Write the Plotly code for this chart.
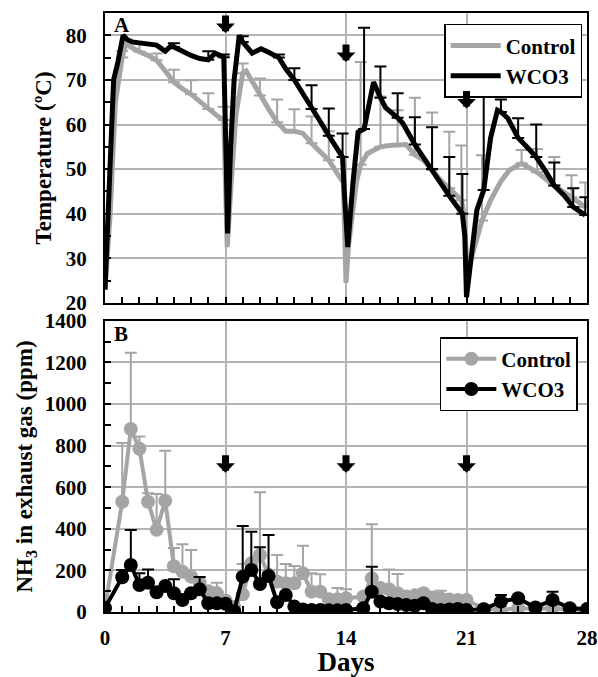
import plotly.graph_objects as go

SERIF = "Liberation Serif"
GRAY = "#a5a5a5"
BLACK = "#000000"

# ---------------- Panel A: temperature (ºC) ----------------
ctrl_t_days = [0, 0.3, 0.6, 1.0, 1.2, 1.6, 2.0, 2.5, 3.0, 3.5, 4.0, 4.5, 5.0, 5.5, 6.0, 6.5, 6.9,
               7.05, 7.1, 7.3, 7.6, 8.0, 8.2, 8.5, 9.0, 9.5, 10.0, 10.5, 11.0, 11.5, 12.0, 12.5,
               13.0, 13.5, 13.85, 14.0, 14.15, 14.6, 14.85, 15.25, 16.0, 16.5, 17.0, 17.5, 18.0,
               18.5, 19.0, 19.5, 20.0, 20.7, 20.85, 21.05, 21.3, 21.9, 22.4, 23.0, 23.5, 24.2,
               25.1, 26.1, 27.1, 27.9]
ctrl_t = [23, 40, 65, 75, 78, 77, 76.3, 75.5, 74.4, 72, 69.5, 68, 66.8, 65.2, 63.5, 62, 61,
          40, 32.5, 45, 62, 71.5, 72, 70, 66.5, 63.5, 60.5, 58.5, 58.5, 58, 55.8, 54,
          52, 49, 47, 24.5, 33, 47, 51, 53.5, 55, 55.3, 55.3, 55.5, 53.2,
          52, 49.8, 47.5, 45.7, 43, 40, 27, 30.3, 38.5, 43, 47.3, 49.8, 51.3,
          49.3, 46.3, 43.7, 41.5]
ctrl_t_err = [None, None, None, 1.5, None, None, 1.9, None, 1.5, None, 2.8, None, 3.1, None, 3.5, None, 3.0,
              None, None, None, None, 2.2, None, None, 3.8, None, 5.1, None, 4.9, None, 6.0, None,
              6.5, None, None, None, None, None, 23.0, None, 11.3, None, 7.9, None, 12.8,
              None, 12.9, None, 12.7, 12.3, None, None, None, 14.6, None, None, None, 3.0,
              5.2, 6.4, 4.9, 5.5]

wco3_t_days = [0, 0.3, 0.5, 0.75, 1.05, 1.3, 1.6, 2.0, 2.5, 3.0, 3.5, 3.8, 4.0, 4.5, 5.0, 5.5, 5.85,
               6.0, 6.4, 6.9, 7.05, 7.12, 7.3, 7.5, 7.8, 8.0, 8.55, 9.06, 9.5, 10.1, 10.5, 11.0,
               11.4, 12.0, 12.45, 13.0, 13.8, 13.9, 14.1, 14.4, 14.7, 15.05, 15.3, 15.6, 16.0,
               16.3, 17.0, 17.3, 18.0, 18.6, 19.0, 19.5, 20.0, 20.76, 20.9, 21.0, 21.3, 21.6,
               22.0, 22.4, 22.8, 23.0, 23.4, 24.0, 24.5, 25.05, 25.6, 26.1, 26.7, 27.2, 27.9]
wco3_t = [23, 50, 70, 74, 80, 79, 78.5, 78.3, 78, 77.8, 76.4, 77.5, 77.4, 76.3, 75.5, 74.8, 74.4,
          74.5, 76, 75.1, 50, 35.6, 55, 70, 80, 78.5, 76, 77, 76.2, 75, 72.5, 70,
          67.5, 63.5, 61, 57.5, 52.7, 45, 32.5, 46.8, 58.3, 59, 64, 69.5, 66,
          63.8, 61.5, 60.3, 55.5, 52, 50, 47, 44, 40, 35, 21.3, 32, 40.8,
          45.3, 57, 63.2, 62.8, 61.4, 57, 55, 52.7, 49.5, 46.3, 44, 41.5, 39.7]
wco3_t_err = [None, None, None, None, None, None, None, None, None, None, None, None, 0.8, None, None, None, None,
              1.9, None, 0.6, None, None, None, None, None, 1.3, None, None, None, 0.7, None, 2.6,
              None, 5.3, None, 6.1, 5.3, None, None, None, None, 22.7, None, None, 7.0,
              None, 5.5, None, 6.1, None, 9.4, None, 8.7, 8.9, None, None, None, None,
              22.6, None, None, 2.8, None, 4.4, None, 7.3, None, 5.2, None, 4.2, 4.0]

# ---------------- Panel B: NH3 (ppm) ----------------
nh3_days = [0, 1, 1.5, 2, 2.5, 3, 3.5, 4, 4.5, 5, 5.5, 6, 6.5, 7, 7.5, 8, 8.5, 9, 9.5, 10,
            10.5, 11, 11.5, 12, 12.5, 13, 13.5, 14, 15, 15.5, 16, 16.5, 17, 17.5, 18, 18.5,
            19, 19.5, 20, 20.5, 21, 22, 23, 24, 25, 26, 27, 28]
ctrl_nh3 = [20, 530, 880, 785, 530, 395, 535, 220, 194, 170, 140, 100, 91, 55, 25, 85, 234, 274, 180, 146,
            138, 138, 186, 98, 98, 61, 61, 66, 74, 162, 115, 109, 90, 74, 80, 90,
            70, 66, 60, 58, 58, 15, 10, 18, 15, 18, 10, 10]
ctrl_nh3_err = [None, 283, 367, 59, 41, 172, 241, 88, 132, 128, None, None, 50, None, None, 146, None, 302, None, 128,
                93, 83, 133, 88, 84, None, 54, 44, None, 260, None, 96, 93, None, None, None,
                None, 36, None, None, 14, None, None, None, None, None, None, None]
wco3_nh3 = [20, 167, 226, 130, 141, 95, 125, 90, 58, 90, 109, 42, 42, 40, 4, 170, 202, 135, 173, 47,
            82, 26, 12, 10, 10, 8, 8, 10, 18, 98, 50, 42, 38, 34, 30, 42,
            15, 10, 12, 15, 10, 13, 50, 66, 22, 58, 18, 14]
wco3_nh3_err = [None, 35, 168, 56, 64, None, None, 67, None, None, 59, None, None, None, None, 244, 184, 177, 197, None,
                None, None, None, None, None, None, None, None, None, 120, None, None, None, None, None, None,
                None, None, None, None, None, None, 32, None, None, 40, None, None]

# turning points (compost turning) and where the arrows point
turn_days = [7, 14, 21]
turn_arrow_temp = [80.5, 74.0, 63.6]
turn_arrow_nh3 = [670, 670, 670]


def with_err(days, vals, errs):
    keep = [i for i, e in enumerate(errs) if e is not None]
    return [days[i] for i in keep], [vals[i] for i in keep], [errs[i] for i in keep]


def err_trace(days, vals, errs, color, xa, ya):
    x, y, e = with_err(days, vals, errs)
    return go.Scatter(x=x, y=y, mode="markers", xaxis=xa, yaxis=ya, showlegend=False,
                      marker=dict(size=1, color="rgba(0,0,0,0)"), hoverinfo="skip",
                      error_y=dict(type="data", array=e, symmetric=False,
                                   arrayminus=[0] * len(e), color=color,
                                   thickness=2, width=6))


fig = go.Figure()

# Panel A
fig.add_trace(err_trace(ctrl_t_days, ctrl_t, ctrl_t_err, GRAY, "x", "y"))
fig.add_trace(go.Scatter(x=ctrl_t_days, y=ctrl_t, mode="lines", name="Control",
                         line=dict(color=GRAY, width=5), xaxis="x", yaxis="y", legend="legend"))
fig.add_trace(err_trace(wco3_t_days, wco3_t, wco3_t_err, BLACK, "x", "y"))
fig.add_trace(go.Scatter(x=wco3_t_days, y=wco3_t, mode="lines", name="WCO3",
                         line=dict(color=BLACK, width=5), xaxis="x", yaxis="y", legend="legend"))

# Panel B
fig.add_trace(err_trace(nh3_days, ctrl_nh3, ctrl_nh3_err, GRAY, "x2", "y2"))
fig.add_trace(go.Scatter(x=nh3_days, y=ctrl_nh3, mode="lines+markers", name="Control",
                         line=dict(color=GRAY, width=4), marker=dict(color=GRAY, size=14),
                         xaxis="x2", yaxis="y2", legend="legend2"))
fig.add_trace(err_trace(nh3_days, wco3_nh3, wco3_nh3_err, BLACK, "x2", "y2"))
fig.add_trace(go.Scatter(x=nh3_days, y=wco3_nh3, mode="lines+markers", name="WCO3",
                         line=dict(color=BLACK, width=4), marker=dict(color=BLACK, size=14),
                         xaxis="x2", yaxis="y2", legend="legend2"))

tickfont = dict(family=SERIF, size=21, color="black", weight="bold")
common_x = dict(range=[0, 28], tick0=0, dtick=7, ticks="inside", ticklen=6, tickwidth=1.5,
                tickcolor="black", showgrid=True, gridcolor="#b4b4b4", gridwidth=1.5,
                showline=True, linecolor="black", linewidth=2, mirror=True, zeroline=False,
                automargin=False,
                minor=dict(dtick=1, ticks="inside", ticklen=6, tickwidth=1.5, tickcolor="black",
                           showgrid=False),
                tickfont=tickfont)
common_y = dict(ticks="inside", ticklen=6, tickwidth=1.5, tickcolor="black",
                showgrid=True, gridcolor="#b4b4b4", gridwidth=1.5,
                showline=True, linecolor="black", linewidth=2, mirror=True, zeroline=False,
                automargin=False,
                tickfont=tickfont, ticklabelstandoff=12)

legend_style = dict(xanchor="right", yanchor="top", bgcolor="white", bordercolor="black",
                    borderwidth=1.5, font=dict(family=SERIF, size=21, color="black", weight="bold"),
                    tracegroupgap=0, itemwidth=50)

annotations = [
    dict(text="<b>A</b>", x=0.035, y=82.4, xref="x domain", yref="y", showarrow=False,
         font=dict(family=SERIF, size=21, color="black"), xanchor="center", yanchor="middle"),
    dict(text="<b>B</b>", x=0.033, y=1335, xref="x domain", yref="y2", showarrow=False,
         font=dict(family=SERIF, size=21, color="black"), xanchor="center", yanchor="middle"),
]
for d, yt in zip(turn_days, turn_arrow_temp):
    annotations.append(dict(x=d, y=yt, xref="x", yref="y", ax=0, ay=-19, text="",
                            showarrow=True, arrowhead=1, arrowwidth=7, arrowsize=0.45,
                            arrowcolor="black"))
for d, yn in zip(turn_days, turn_arrow_nh3):
    annotations.append(dict(x=d, y=yn, xref="x2", yref="y2", ax=0, ay=-19, text="",
                            showarrow=True, arrowhead=1, arrowwidth=7, arrowsize=0.45,
                            arrowcolor="black"))

fig.update_layout(
    width=598, height=677,
    margin=dict(l=105, r=11, t=13, b=65, autoexpand=False),
    plot_bgcolor="white", paper_bgcolor="white",
    font=dict(family=SERIF, color="black"),
    xaxis=dict(common_x, anchor="y", domain=[0, 1], showticklabels=False),
    yaxis=dict(common_y, anchor="x", domain=[0.516, 1], range=[20, 85], tick0=20, dtick=10,
               minor=dict(dtick=5, ticks="inside", ticklen=6, tickwidth=1.5, tickcolor="black",
                          showgrid=False),
               title=dict(text="Temperature (ºC)",
                          font=dict(family=SERIF, size=23, color="black", weight="bold"),
                          standoff=8)),
    xaxis2=dict(common_x, anchor="y2", domain=[0, 1], showticklabels=True,
                ticklabelstandoff=6,
                title=dict(text="Days", font=dict(family=SERIF, size=27, color="black", weight="bold"),
                           standoff=7)),
    yaxis2=dict(common_y, anchor="x2", domain=[0, 0.486], range=[0, 1400], tick0=0, dtick=200,
                minor=dict(dtick=100, ticks="inside", ticklen=6, tickwidth=1.5, tickcolor="black",
                           showgrid=False),
                title=dict(text="NH<sub>3</sub> in exhaust gas (ppm)",
                           font=dict(family=SERIF, size=23, color="black", weight="bold"),
                           standoff=6)),
    legend=dict(legend_style, x=0.99, y=0.982),
    legend2=dict(legend_style, x=0.981, y=0.459),
    annotations=annotations,
    showlegend=True,
)

fig.write_html("out.html", config={"displayModeBar": False},
               post_script="document.body.style.margin='0px';")
